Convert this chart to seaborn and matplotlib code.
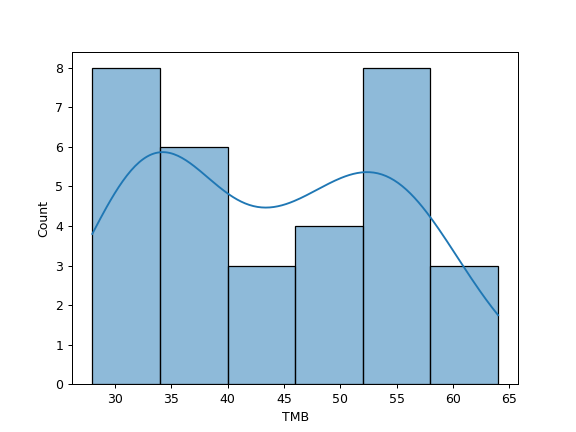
import pandas as pd
import matplotlib
matplotlib.use("Agg")
import matplotlib.pyplot as plt
import seaborn as sns

tmb_28_34 = [28, 28, 31, 32, 32, 33, 33, 33]
tmb_34_40 = [34, 35, 35, 36, 37, 38]
tmb_40_46 = [42, 44, 45]
tmb_46_52 = [46, 47, 48, 50]
tmb_52_58 = [52, 52, 53, 54, 55, 55, 56, 57]
tmb_58_64 = [58, 59, 64]

df = pd.DataFrame({"TMB": tmb_28_34 + tmb_34_40 + tmb_40_46 + tmb_46_52 + tmb_52_58 + tmb_58_64})

plt.figure(figsize=(6.4, 4.8), dpi=90)
sns.histplot(df["TMB"], bins=6, kde=True)
plt.savefig("out.png", dpi=90)
